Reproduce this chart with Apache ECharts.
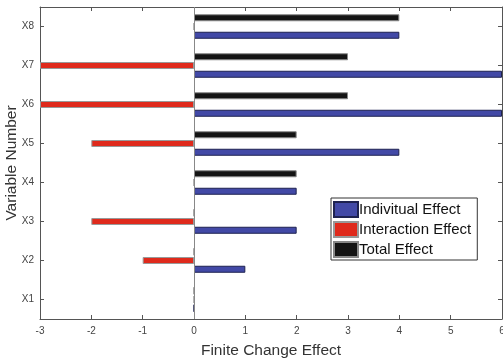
<!DOCTYPE html>
<html><head><meta charset="utf-8">
<script src="https://cdn.jsdelivr.net/npm/echarts@6/dist/echarts.min.js"></script>
<style>html,body{margin:0;padding:0;background:#fff}#c{width:503px;height:361px}</style>
</head><body><div id="c"></div>
<script>
var categories = ['X1','X2','X3','X4','X5','X6','X7','X8'];
var individualEffect = [0, 1, 2, 2, 4, 6, 6, 4];
var interactionEffect = [0, -1, -2, 0, -2, -3, -3, 0];
var totalEffect = [0, 0, 0, 2, 2, 3, 3, 4];
var xTicks = [-3, -2, -1, 0, 1, 2, 3, 4, 5, 6];

var font = 'Liberation Sans, Arial, Helvetica, sans-serif';
var chart = echarts.init(document.getElementById('c'));
var axisLine = {show: true, onZero: false, lineStyle: {color: '#555', width: 1}};
var tick = {show: true, inside: true, length: 4, lineStyle: {color: '#555'}};
chart.setOption({
  animation: false,
  grid: {left: 40, right: 1, top: 7, bottom: 42, containLabel: false, outerBoundsMode: 'none'},
  legend: {
    orient: 'vertical', left: 331, top: 198,
    itemWidth: 24, itemHeight: 15, itemGap: 3,
    padding: [3, 6, 2, 2],
    borderColor: '#333', borderWidth: 1, backgroundColor: '#fff',
    icon: 'rect',
    textStyle: {fontFamily: font, fontSize: 15, color: '#111', padding: [0, 0, 0, -4]},
    data: ['Indivitual Effect', 'Interaction Effect', 'Total Effect']
  },
  xAxis: [{
    type: 'value', min: xTicks[0], max: xTicks[xTicks.length - 1], interval: 1,
    name: 'Finite Change Effect', nameLocation: 'middle', nameGap: 24, nameMoveOverlap: false,
    nameTextStyle: {fontFamily: font, fontSize: 15.5, color: '#333'},
    axisLine: axisLine, axisTick: tick,
    axisLabel: {fontFamily: font, fontSize: 10, color: '#444', margin: 7},
    splitLine: {show: false}
  }, {
    type: 'value', position: 'top', min: xTicks[0], max: xTicks[xTicks.length - 1], interval: 1,
    axisLine: axisLine, axisTick: tick,
    axisLabel: {show: false}, splitLine: {show: false}
  }],
  yAxis: [{
    type: 'category', data: categories,
    name: 'Variable Number', nameLocation: 'middle', nameGap: 20, nameRotate: 90, nameMoveOverlap: false,
    nameTextStyle: {fontFamily: font, fontSize: 15.5, color: '#333'},
    axisLine: axisLine, axisTick: Object.assign({alignWithLabel: true}, tick),
    axisLabel: {fontFamily: font, fontSize: 10, color: '#444', margin: 6}
  }, {
    type: 'category', data: categories, position: 'right',
    axisLine: axisLine, axisTick: Object.assign({alignWithLabel: true}, tick),
    axisLabel: {show: false}
  }],
  series: [{
    name: 'Total Effect', type: 'bar', data: totalEffect,
    barWidth: 7, barGap: '25%',
    itemStyle: {color: '#141414', borderColor: '#888', borderWidth: 1},
    markLine: {silent: true, symbol: 'none', label: {show: false},
      lineStyle: {color: '#888', width: 1, type: 'solid'}, data: [{xAxis: 0}]}
  }, {
    name: 'Interaction Effect', type: 'bar', data: interactionEffect,
    barWidth: 7, barGap: '25%',
    itemStyle: {color: '#df2a1c', borderColor: '#999', borderWidth: 1}
  }, {
    name: 'Indivitual Effect', type: 'bar', data: individualEffect,
    barWidth: 7, barGap: '25%',
    itemStyle: {color: '#4249a6', borderColor: '#1e2250', borderWidth: 1}
  }]
});
</script></body></html>
